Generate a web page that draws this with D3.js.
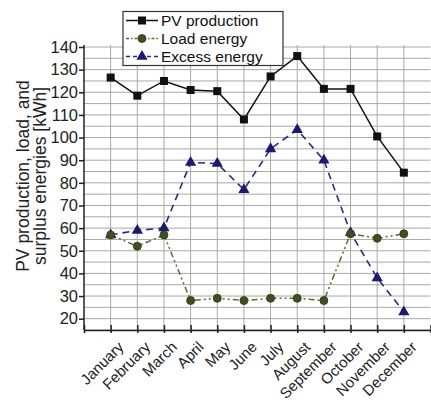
<!DOCTYPE html>
<html><head><meta charset="utf-8">
<script src="https://cdn.jsdelivr.net/npm/d3@7"></script>
<style>body{margin:0;background:#fff}svg{display:block}text{font-family:"Liberation Sans",Arial,sans-serif}</style>
</head><body><svg id="c" width="431" height="402"></svg>
<script>
const months=["January","February","March","April","May","June","July","August","September","October","November","December"];
const pv=[126.5,118.5,125,121,120.5,108,127,136,121.5,121.5,100.5,84.5];
const load=[57,52,57,28,29,28,29,29,28,57.5,55.5,57.5];
const excess=[57,59,60,89,88.5,77,95,103.5,90,58,38,23];
const yTicks=[20,30,40,50,60,70,80,90,100,110,120,130,140];

const svg=d3.select("#c");
const L=84,R=430.5,T=47,B=330;
const x=d3.scaleLinear().domain([0,13]).range([L,R]);
const y=d3.scaleLinear().domain([15,140]).range([B,T]);

// grid
const g=svg.append("g");
d3.range(15,141,5).forEach(v=>{
  g.append("line").attr("x1",L).attr("x2",R).attr("y1",y(v)).attr("y2",y(v)).attr("stroke","#a8a8a8").attr("stroke-width",1);
});
d3.range(1,13).forEach(v=>{
  g.append("line").attr("x1",x(v)).attr("x2",x(v)).attr("y1",T-2).attr("y2",B).attr("stroke","#a8a8a8").attr("stroke-width",1);
});

// axes
const ya=svg.append("g").attr("transform",`translate(${L},0)`)
 .call(d3.axisLeft(y).tickValues(yTicks).tickSize(5).tickPadding(1));
ya.select(".domain").attr("stroke","#222").attr("stroke-width",1.5).attr("d",`M0,${B}V${T-2}`);
ya.selectAll(".tick line").attr("stroke","#222").attr("stroke-width",1.5);
ya.selectAll(".tick text").attr("font-size",16.5).attr("fill","#222").attr("font-family","Liberation Sans, Arial, sans-serif");

const xa=svg.append("g").attr("transform",`translate(0,${B})`)
 .call(d3.axisBottom(x).tickValues(d3.range(0,14)).tickSizeInner(-5).tickSizeOuter(0).tickFormat(""));
xa.select(".domain").attr("stroke","#222").attr("stroke-width",1.5);
xa.selectAll(".tick line").attr("stroke","#222").attr("stroke-width",1.5).attr("y1",3);
svg.append("g").selectAll("text").data(months).join("text")
 .attr("transform",(d,i)=>`translate(${x(i+1)+6},${B+10}) rotate(-45)`)
 .attr("text-anchor","end").attr("dy","0.75em").attr("font-size",15).attr("fill","#222").text(d=>d);

// y label
const yl=svg.append("text").attr("transform","translate(29,176) rotate(-90)").attr("text-anchor","middle").attr("font-size",17.5).attr("fill","#222");
yl.append("tspan").attr("x",0).attr("dy",0).text("PV production, load, and");
yl.append("tspan").attr("x",0).attr("dy",17).text("surplus energies [kWh]");

const line=d3.line().x((d,i)=>x(i+1)).y(d=>y(d));
const series=[
 {data:pv,color:"#111",dash:null,marker:"square",mfill:"#111",name:"PV production",w:1.5},
 {data:load,color:"#5a6e2a",dash:"6,3,2,3,2,3",marker:"circle",mfill:"#3d5020",name:"Load energy",w:1.5},
 {data:excess,color:"#2a2a80",dash:"7,5",marker:"triangle",mfill:"#1a1a70",name:"Excess energy",w:1.6}
];
function marker(sel,type,fill,cx,cy){
  if(type==="square") sel.append("rect").attr("x",cx-4).attr("y",cy-4).attr("width",8).attr("height",8).attr("fill",fill);
  else if(type==="circle") sel.append("circle").attr("cx",cx).attr("cy",cy).attr("r",4).attr("fill",fill).attr("stroke","#2a3a10").attr("stroke-width",0.8);
  else sel.append("path").attr("d",d3.symbol(d3.symbolTriangle,55)()).attr("transform",`translate(${cx},${cy})`).attr("fill",fill);
}
series.slice().reverse().forEach(s=>{
  svg.append("path").attr("d",line(s.data)).attr("fill","none").attr("stroke",s.color).attr("stroke-width",s.w).attr("stroke-dasharray",s.dash);
});
series.slice().reverse().forEach(s=>{
  const mg=svg.append("g");
  s.data.forEach((d,i)=>marker(mg,s.marker,s.mfill,x(i+1),y(d)));
});

// legend
const lg=svg.append("g");
lg.append("rect").attr("x",123).attr("y",11.5).attr("width",160).attr("height",54).attr("fill","#fff").attr("stroke","#333").attr("stroke-width",1.2);
series.forEach((s,i)=>{
  const cy=20.5+i*18;
  lg.append("line").attr("x1",126).attr("x2",158).attr("y1",cy).attr("y2",cy).attr("stroke",s.color).attr("stroke-width",s.w).attr("stroke-dasharray",s.dash? (i===1?"3,2,1.5,2":"4,3"):null);
  marker(lg,s.marker,s.mfill,142,cy);
  lg.append("text").attr("x",161).attr("y",cy).attr("dy","0.35em").attr("font-size",15.5).attr("fill","#111").text(s.name);
});
</script></body></html>
